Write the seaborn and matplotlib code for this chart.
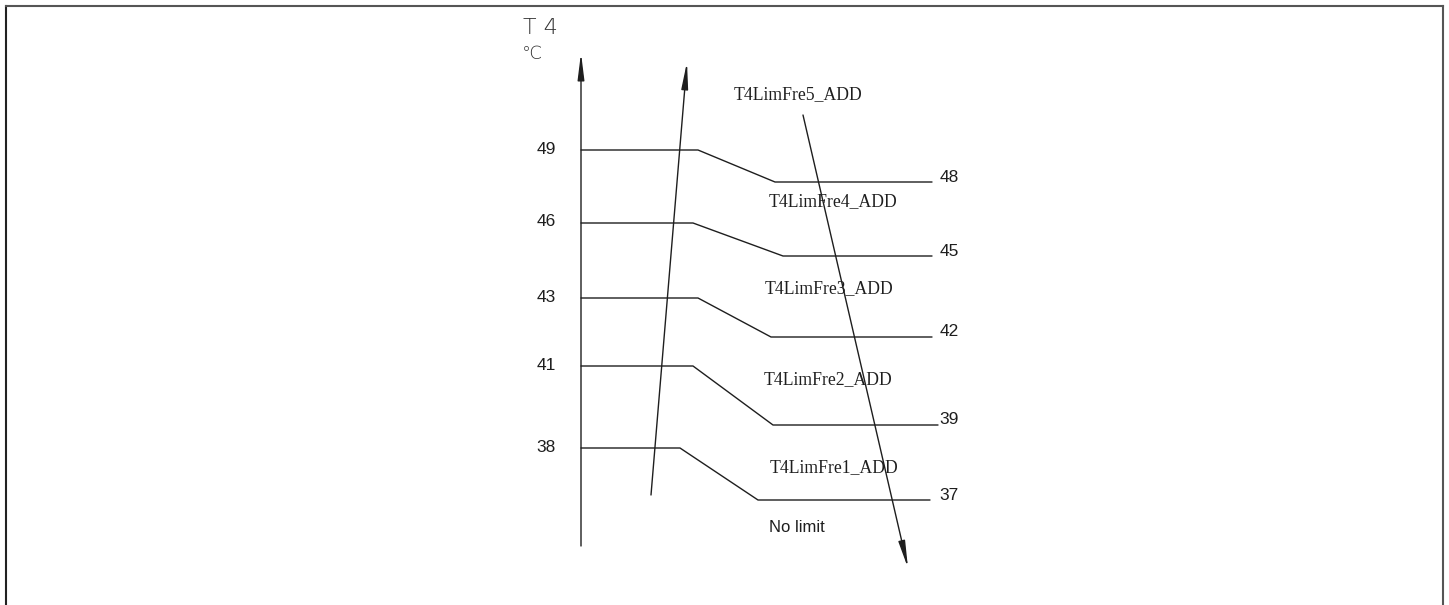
import matplotlib
matplotlib.use("Agg")
import matplotlib.pyplot as plt
import seaborn as sns
import pandas as pd

# ---- data ----
left_temps = [49, 46, 43, 41, 38]          # upper threshold (rising T4)
right_temps = [48, 45, 42, 39, 37]         # lower threshold (falling T4)
zone_labels = ["T4LimFre5_ADD", "T4LimFre4_ADD", "T4LimFre3_ADD",
               "T4LimFre2_ADD", "T4LimFre1_ADD"]
free_label = "No limit"
axis_title = "T 4"
axis_unit = "\u2103"

# ---- schematic layout (pixel positions of the diagram) ----
left_y = [150, 223, 298, 366, 448]
right_y = [182, 256, 337, 425, 500]
bend_x0 = [698, 693, 698, 693, 680]
bend_x1 = [775, 783, 771, 773, 758]
end_x = [932, 932, 932, 938, 930]
axis_x = 581
zone_label_xy = [(798, 95), (833, 202), (829, 289), (828, 380), (834, 468)]

sns.set_theme(style="white")
plt.rcParams["font.family"] = ["Liberation Sans", "DejaVu Sans"]

W, H = 1449, 605
fig = plt.figure(figsize=(W / 100, H / 100), dpi=100)
fig.patch.set_facecolor("white")

# outer frame (left, top, right)
fr = fig.add_axes([6.5 / W, -0.05, (1443 - 6.5) / W, 1.05 - 6.5 / H])
fr.set_xticks([]); fr.set_yticks([])
for s in ["left", "top", "right"]:
    fr.spines[s].set_visible(True)
    fr.spines[s].set_linewidth(1.5)
    fr.spines[s].set_color("#555555")
fr.spines["left"].set_color("#222222")
fr.spines["bottom"].set_visible(False)
fr.patch.set_alpha(0)

ax = fig.add_axes([0, 0, 1, 1])
ax.patch.set_alpha(0)

lc = "#1e1e1e"
rows = []
for i in range(len(left_temps)):
    pts = [(axis_x, left_y[i]), (bend_x0[i], left_y[i]),
           (bend_x1[i], right_y[i]), (end_x[i], right_y[i])]
    for k, (x, y) in enumerate(pts):
        rows.append({"level": i, "order": k, "x": x, "y": y})
df = pd.DataFrame(rows)
sns.lineplot(data=df, x="x", y="y", units="level", estimator=None, sort=False,
             color=lc, linewidth=1.0, ax=ax, legend=False)
ax.set_xlim(0, W)
ax.set_ylim(H, 0)
ax.axis("off")

arrow_kw = dict(arrowstyle="-|>,head_length=1.6,head_width=0.2", color=lc,
                lw=1.0, shrinkA=0, shrinkB=0, mutation_scale=10)
# vertical T4 axis
ax.annotate("", xy=(axis_x, 53), xytext=(axis_x, 546), arrowprops=arrow_kw)
# rising arrow
ax.annotate("", xy=(687, 62), xytext=(651, 495), arrowprops=arrow_kw)
# falling arrow
ax.annotate("", xy=(908, 568), xytext=(803, 115), arrowprops=arrow_kw)

for i in range(len(left_temps)):
    ax.text(546, left_y[i] - 1, str(left_temps[i]), ha="center", va="center",
            fontsize=12.5, color=lc)
    ax.text(949, right_y[i] - 5, str(right_temps[i]), ha="center", va="center",
            fontsize=12.5, color=lc)
    zx, zy = zone_label_xy[i]
    ax.text(zx, zy, zone_labels[i], ha="center", va="center", fontsize=12.7,
            family="Liberation Serif", color=lc)

ax.text(769, 528, free_label, ha="left", va="center", fontsize=12, color=lc)
ax.text(540, 28, axis_title, ha="center", va="center", fontsize=16,
        family="DejaVu Sans", fontweight="light", color="#333333")
ax.text(532, 54, axis_unit, ha="center", va="center", fontsize=13,
        family="DejaVu Sans", fontweight="light", color="#333333")

fig.savefig("out.png", dpi=100, facecolor="white")
